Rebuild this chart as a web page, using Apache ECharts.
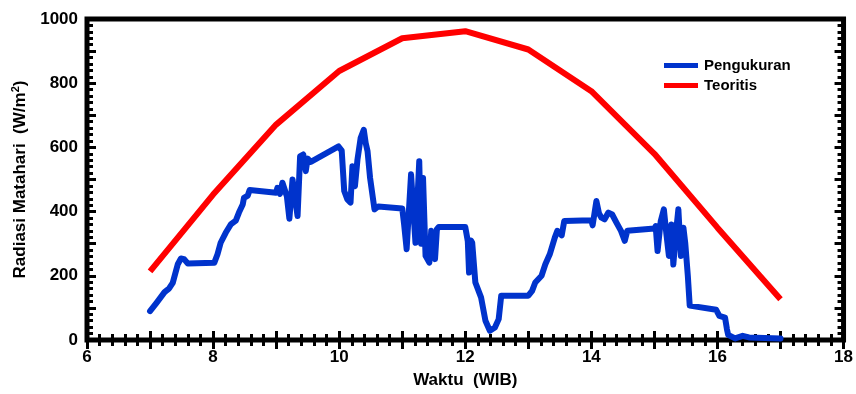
<!DOCTYPE html>
<html lang="id">
<head>
    <meta charset="UTF-8">
    <title>Radiasi Matahari</title>
    <script src="https://cdn.jsdelivr.net/npm/echarts@6.0.0/dist/echarts.min.js"></script>
    <style>
        html, body { margin: 0; padding: 0; background: #fff; }
        #chart { width: 856px; height: 394px; }
    </style>
</head>
<body>
    <div id="chart"></div>
    <script>
        // data
        const jamTeori = [7, 8, 9, 10, 11, 12, 13, 14, 15, 16, 17];
        const teoritis = [214, 453, 671, 838, 940, 962, 905, 775, 580, 350, 127];

        const jamUkur = [7.00, 7.10, 7.23, 7.30, 7.36, 7.44, 7.49, 7.54, 7.60, 8.02, 8.07, 8.12, 8.20, 8.28, 8.36, 8.41, 8.47, 8.49, 8.55, 8.58,
            9.00, 9.02, 9.06, 9.10, 9.13, 9.17, 9.21, 9.26, 9.29, 9.34, 9.38, 9.43, 9.47, 9.50, 9.55, 9.99,
            10.04, 10.08, 10.13, 10.18, 10.21, 10.25, 10.29, 10.34, 10.39, 10.42, 10.45, 10.49, 10.56, 10.62,
            11.00, 11.03, 11.07, 11.14, 11.21, 11.27, 11.30, 11.33, 11.37, 11.43, 11.46, 11.52, 11.55, 11.58,
            12.00, 12.04, 12.06, 12.09, 12.11, 12.16, 12.25, 12.32, 12.39, 12.47, 12.53, 12.57,
            13.00, 13.06, 13.11, 13.21, 13.27, 13.34, 13.42, 13.46, 13.53, 13.57,
            14.00, 14.02, 14.08, 14.12, 14.16, 14.21, 14.27, 14.33, 14.40, 14.47, 14.53, 14.57,
            15.00, 15.02, 15.05, 15.10, 15.15, 15.19, 15.23, 15.27, 15.30, 15.34, 15.38, 15.42, 15.46, 15.49, 15.53, 15.56, 15.59, 15.98,
            16.03, 16.12, 16.15, 16.17, 16.28, 16.40, 16.50, 17.00];
        const pengukuran = [90, 115, 149, 160, 178, 236, 254, 252, 238, 241, 267, 303, 334, 360, 372, 397, 422, 443, 450, 467,
            459, 474, 455, 490, 495, 448, 378, 500, 495, 386, 572, 578, 526, 565, 555, 603,
            590, 464, 438, 428, 541, 479, 562, 629, 655, 614, 588, 505, 407, 416,
            410, 360, 283, 516, 303, 557, 300, 505, 262, 241, 340, 252, 345, 352,
            352, 308, 210, 310, 303, 179, 133, 60, 29, 39, 65, 138,
            138, 153, 179, 200, 236, 267, 319, 340, 326, 371,
            373, 357, 433, 395, 381, 376, 397, 391, 365, 340, 309, 340,
            347, 355, 277, 370, 407, 330, 262, 360, 235, 330, 407, 262, 350, 300, 200, 107, 101, 94,
            75, 70, 34, 16, 5, 13, 8, 5];

        const xTicks = [6, 8, 10, 12, 14, 16, 18];
        const yTicks = [0, 200, 400, 600, 800, 1000];

        const fontFam = '"Liberation Sans", Arial, sans-serif';
        const lineAxis = { show: false };
        const tick = { show: true, inside: true, length: 9, lineStyle: { color: '#000', width: 3 } };
        const minor = { show: true, splitNumber: 5, length: 6, lineStyle: { color: '#000', width: 3 } };
        const label = { color: '#000', fontSize: 17, fontWeight: 'bold', fontFamily: fontFam };

        const myChart = echarts.init(document.getElementById('chart'), null, { renderer: 'canvas' });
        const option = {
            animation: false,
            backgroundColor: '#fff',
            grid: { left: 87, right: 11, top: 19, bottom: 53, show: true, borderColor: '#000', borderWidth: 5, backgroundColor: 'transparent' },
            legend: {
                orient: 'vertical',
                left: 659,
                top: 53,
                itemWidth: 34,
                itemHeight: 5,
                itemGap: 5,
                icon: 'rect',
                textStyle: { color: '#000', fontSize: 15, fontWeight: 'bold', fontFamily: fontFam, padding: [0, 0, 0, 1] },
                data: ['Pengukuran', 'Teoritis']
            },
            xAxis: [{
                type: 'value', min: 6, max: 18, interval: 1,
                name: 'Waktu  (WIB)', nameLocation: 'middle', nameGap: 32,
                nameTextStyle: label,
                axisLine: lineAxis, axisTick: tick, minorTick: minor,
                splitLine: { show: false },
                axisLabel: Object.assign({}, label, {
                    margin: 9,
                    formatter: v => xTicks.includes(v) ? String(v) : ''
                })
            }, {
                type: 'value', min: 6, max: 18, interval: 1, position: 'top',
                axisLine: lineAxis, axisTick: tick, minorTick: minor,
                splitLine: { show: false }, axisLabel: { show: false }
            }],
            yAxis: [{
                type: 'value', min: 0, max: 1000, interval: 100,
                name: '{t|Radiasi Matahari  (W/m}{s|2}{t|)}', nameLocation: 'middle', nameGap: 56,
                nameTextStyle: {
                    rich: {
                        t: label,
                        s: { color: '#000', fontSize: 11, fontWeight: 'bold', fontFamily: fontFam, padding: [0, 0, 10, 0] }
                    }
                },
                axisLine: lineAxis, axisTick: tick, minorTick: minor,
                splitLine: { show: false },
                axisLabel: Object.assign({}, label, {
                    margin: 9,
                    formatter: v => yTicks.includes(v) ? String(v) : ''
                })
            }, {
                type: 'value', min: 0, max: 1000, interval: 100, position: 'right',
                axisLine: lineAxis, axisTick: tick, minorTick: minor,
                splitLine: { show: false }, axisLabel: { show: false }
            }],
            series: [{
                name: 'Pengukuran', type: 'line',
                data: jamUkur.map((x, i) => [x, pengukuran[i]]),
                showSymbol: false, symbol: 'none',
                itemStyle: { color: '#0033cc' },
                lineStyle: { color: '#0033cc', width: 6, join: 'round', cap: 'round' }
            }, {
                name: 'Teoritis', type: 'line',
                data: jamTeori.map((x, i) => [x, teoritis[i]]),
                showSymbol: false, symbol: 'none',
                itemStyle: { color: '#ff0000' },
                lineStyle: { color: '#ff0000', width: 6 }
            }]
        };
        myChart.setOption(option);
    </script>
</body>
</html>
